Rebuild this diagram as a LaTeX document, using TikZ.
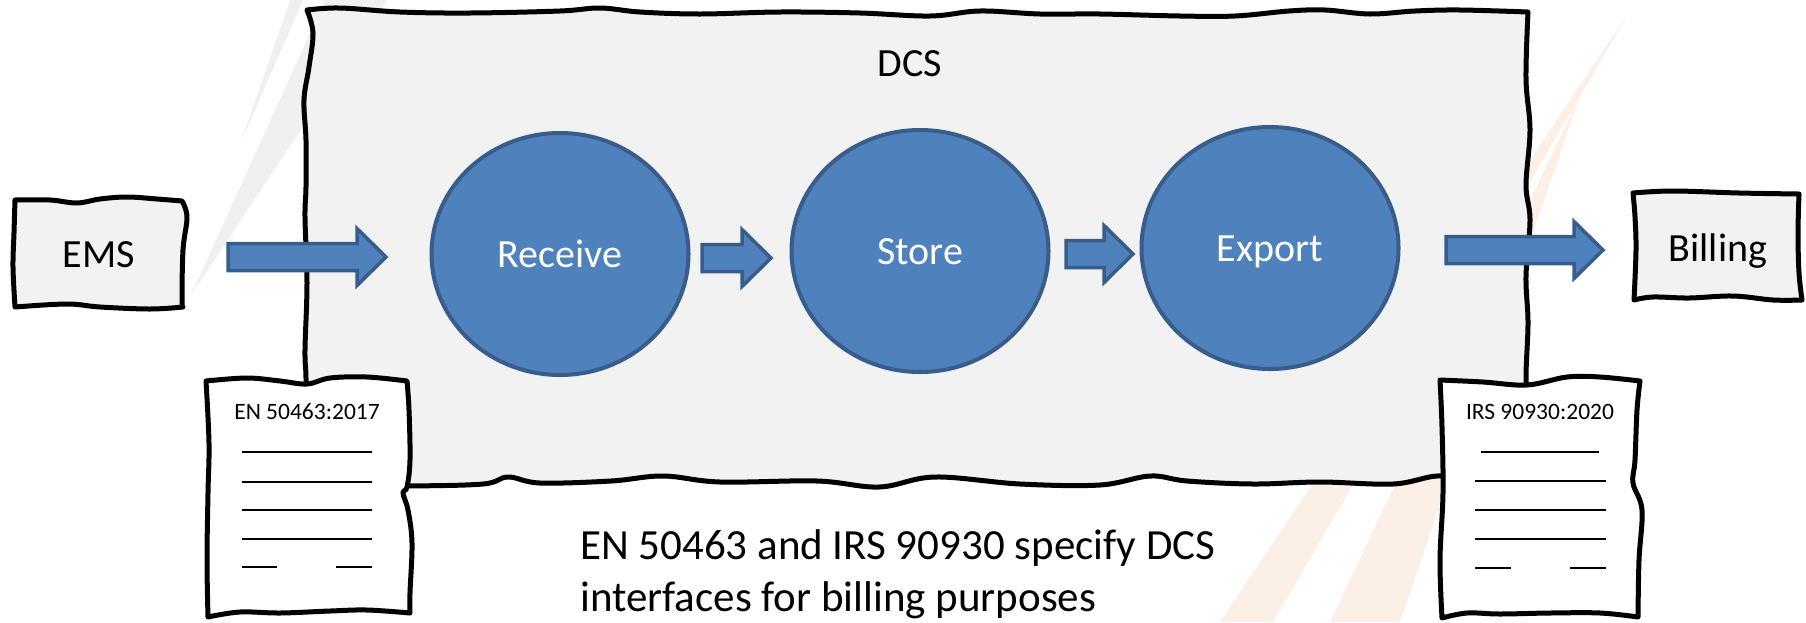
\documentclass[tikz,border=0pt]{standalone}
\usepackage{fontspec}
\setmainfont{Carlito}
\usetikzlibrary{shapes.geometric,calc}
\definecolor{boxgray}{HTML}{F2F2F2}
\definecolor{bluefill}{HTML}{4F81BD}
\definecolor{blueline}{HTML}{385D8A}
\definecolor{stripegray}{HTML}{F0F0F0}
\definecolor{stripeorange}{HTML}{FBEFE6}
\newcommand\blockarrow[2]{%
  \path[blockarrowstyle] let \p1=(#1), \p2=(#2) in
    (\x1,\y1+13.5pt) -- (\x2-29pt,\y1+13.5pt) -- (\x2-29pt,\y1+28.5pt) -- (\x2,\y1)
    -- (\x2-29pt,\y1-28.5pt) -- (\x2-29pt,\y1-13.5pt) -- (\x1,\y1-13.5pt) -- cycle;}
\begin{document}
\begin{tikzpicture}[x=1pt,y=-1pt,
  sketch/.style={draw=black, line width=5pt, line join=round},
  proc/.style={ellipse, draw=blueline, fill=bluefill, line width=4pt,
    minimum width=257pt, minimum height=242pt, inner sep=0pt, text=white,
    font=\fontsize{40}{48}\selectfont, text height=26pt, text depth=0pt},
  lbl/.style={inner sep=0pt, font=\fontsize{40}{48}\selectfont, text height=26pt, text depth=0pt},
  doclbl/.style={inner sep=0pt, font=\fontsize{23.5}{28}\selectfont, text height=15pt, text depth=0pt},
  notelbl/.style={inner sep=0pt, anchor=base west, font=\fontsize{43}{52}\selectfont},
  docline/.style={draw=black, line width=1.8pt},
  blockarrowstyle/.style={fill=bluefill, draw=blueline, line width=3.5pt, line join=miter}]
\useasboundingbox (0,0) rectangle (1806,622);

% faint background stripes
\fill[stripegray] (240,145) -- (290,0) -- (303,0) -- cycle;
\fill[stripegray] (190,297) -- (325,0) -- (387,0) -- cycle;
\fill[stripeorange] (1220,622) -- (1273,622) -- (1628,14) -- cycle;
\fill[stripeorange] (1330,622) -- (1400,622) -- (1580,95) -- cycle;

% DCS container
\path[sketch, fill=boxgray] (307,10)
  -- plot[smooth, tension=0.6] coordinates {(307,10) (340,8) (400,12) (470,13) (560,11) (600,8) (640,12) (700,14) (780,12) (860,13) (930,16) (980,11) (1040,14) (1100,14) (1180,16) (1235,16) (1289,11) (1325,10) (1370,14) (1415,11) (1460,10) (1528,12)}
  -- plot[smooth, tension=0.6] coordinates {(1528,12) (1526,79) (1530,130) (1526,185) (1530,220) (1526,276) (1528,323) (1526,378) (1528,430) (1530,483)}
  -- plot[smooth, tension=0.6] coordinates {(1530,483) (1470,480) (1437,476) (1393,484) (1320,482) (1253,484) (1187,481) (1150,476) (1100,485) (1020,484) (935,477) (879,487) (817,481) (720,482) (663,476) (611,481) (540,483) (508,477) (483,484) (406,486) (306,486)}
  -- plot[smooth, tension=0.6] coordinates {(306,486) (306,430) (306,378) (305,350) (307,283) (305,217) (306,187) (306,140) (304,100) (309,67) (313,33) (307,10)}
  -- cycle;
\node[lbl] (dcs) at (910,63) {DCS};

% process ellipses
\node[proc] (rec) at (560,254) {Receive};
\node[proc] (sto) at (920,251) {Store};
\node[proc] (expo) at (1270,248) {Export};

% EMS box
\path[sketch, fill=boxgray] (15,200)
  -- plot[smooth, tension=0.6] coordinates {(15,200) (50,200) (77,203) (100,199) (127,197) (157,199) (182,201)}
  -- plot[smooth, tension=0.6] coordinates {(182,201) (187,217) (183,250) (182,300) (183,307)}
  -- plot[smooth, tension=0.6] coordinates {(183,307) (150,309) (100,307) (67,304) (15,307)}
  -- plot[smooth, tension=0.6] coordinates {(15,307) (13,267) (14,233) (15,200)}
  -- cycle;
\node[lbl] (ems) at (99,254) {EMS};

% Billing box
\path[sketch, fill=boxgray] (1633,193)
  -- plot[smooth, tension=0.6] coordinates {(1633,193) (1673,191) (1739,193) (1799,194)}
  -- plot[smooth, tension=0.6] coordinates {(1799,194) (1798,233) (1799,273) (1802,300)}
  -- plot[smooth, tension=0.6] coordinates {(1802,300) (1773,300) (1733,296) (1689,298) (1653,297) (1634,300)}
  -- plot[smooth, tension=0.6] coordinates {(1634,300) (1636,250) (1635,217) (1633,193)}
  -- cycle;
\node[lbl] (bill) at (1718,248) {Billing};

% block arrows
\coordinate (a1s) at (228,257); \coordinate (a1e) at (386,257);
\coordinate (a2s) at (702,258); \coordinate (a2e) at (771,258);
\coordinate (a3s) at (1066,254); \coordinate (a3e) at (1133,254);
\coordinate (a4s) at (1446,250); \coordinate (a4e) at (1603,250);
\blockarrow{a1s}{a1e}
\blockarrow{a2s}{a2e}
\blockarrow{a3s}{a3e}
\blockarrow{a4s}{a4e}

% left document
\path[sketch, fill=white] (206,381)
  -- plot[smooth, tension=0.6] coordinates {(206,381) (247,378) (280,381) (307,384) (330,378) (367,377) (407,381)}
  -- plot[smooth, tension=0.6] coordinates {(407,381) (409,410) (410,460) (407,487) (403,493) (408,510) (412,543) (410,593) (410,613)}
  -- plot[smooth, tension=0.6] coordinates {(410,613) (367,610) (330,611) (280,613) (240,612) (208,617)}
  -- plot[smooth, tension=0.6] coordinates {(208,617) (207,560) (208,493) (209,443) (206,381)}
  -- cycle;
\node[doclbl] (docL) at (307,412) {EN 50463:2017};
\draw[docline] (242,452) -- (372,452);
\draw[docline] (242,482) -- (372,482);
\draw[docline] (242,510) -- (372,510);
\draw[docline] (242,539) -- (372,539);
\draw[docline] (242,567) -- (277,567);
\draw[docline] (336,567) -- (372,567);

% right document
\path[sketch, fill=white] (1440,380)
  -- plot[smooth, tension=0.6] coordinates {(1440,380) (1483,382) (1527,385) (1567,377) (1600,377) (1640,381)}
  -- plot[smooth, tension=0.6] coordinates {(1640,381) (1637,410) (1635,460) (1633,483) (1642,510) (1639,560) (1638,617)}
  -- plot[smooth, tension=0.6] coordinates {(1638,617) (1600,613) (1550,613) (1500,614) (1467,613) (1442,618)}
  -- plot[smooth, tension=0.6] coordinates {(1442,618) (1440,560) (1443,493) (1442,427) (1440,380)}
  -- cycle;
\node[doclbl] (docR) at (1540,412) {IRS 90930:2020};
\draw[docline] (1481,452) -- (1599,452);
\draw[docline] (1475,481) -- (1606,481);
\draw[docline] (1475,510) -- (1606,510);
\draw[docline] (1475,539) -- (1606,539);
\draw[docline] (1475,568) -- (1511,568);
\draw[docline] (1570,568) -- (1606,568);

% note
\node[notelbl] (note1) at (580,559) {EN 50463 and IRS 90930 specify DCS};
\node[notelbl] (note2) at (580,611) {interfaces for billing purposes};
\end{tikzpicture}
\end{document}
